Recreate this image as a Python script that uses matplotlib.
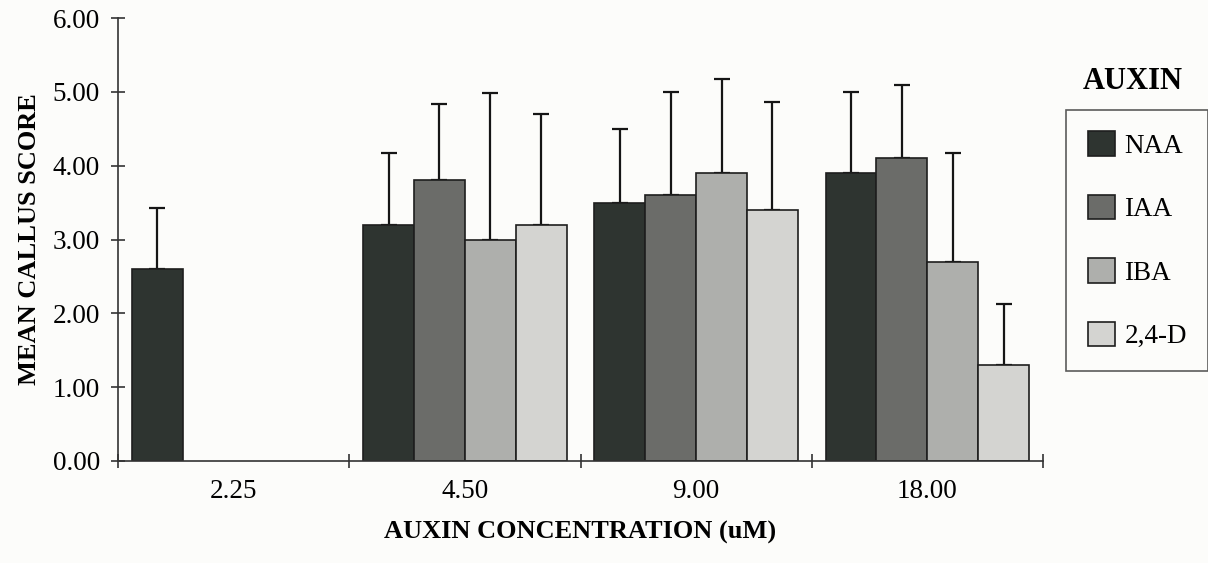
import matplotlib.pyplot as plt
import numpy as np

# data
concentrations = ['2.25', '4.50', '9.00', '18.00']
auxins = ['NAA', 'IAA', 'IBA', '2,4-D']
mean_score = {
    'NAA':   [2.6, 3.2, 3.5, 3.9],
    'IAA':   [None, 3.8, 3.6, 4.1],
    'IBA':   [None, 3.0, 3.9, 2.7],
    '2,4-D': [None, 3.2, 3.4, 1.3],
}
score_err = {
    'NAA':   [0.83, 0.97, 1.0, 1.1],
    'IAA':   [None, 1.03, 1.4, 0.99],
    'IBA':   [None, 1.98, 1.28, 1.47],
    '2,4-D': [None, 1.5, 1.46, 0.83],
}
colors = {'NAA': '#2e3430', 'IAA': '#6b6c69', 'IBA': '#aeafac', '2,4-D': '#d4d4d1'}

plt.rcParams['font.family'] = ['Liberation Serif', 'DejaVu Serif']

fig = plt.figure(figsize=(12.08, 5.63), dpi=100)
fig.patch.set_facecolor('#fcfcfa')
ax = fig.add_axes([0.0977, 0.1812, 0.7657, 0.7868])
ax.set_facecolor('#fcfcfa')

bar_w = 0.22
centers = np.arange(len(concentrations)) + 0.5
for i, name in enumerate(auxins):
    xs, ys, es = [], [], []
    for j, v in enumerate(mean_score[name]):
        if v is None:
            continue
        xs.append(centers[j] + (i - 1.5) * bar_w)
        ys.append(v)
        es.append(score_err[name][j])
    ax.bar(xs, ys, width=bar_w, color=colors[name], edgecolor='#1e1e1e',
           linewidth=1.2, label=name, zorder=2)
    ax.errorbar(xs, ys, yerr=[np.zeros(len(es)), es], fmt='none',
                ecolor='#151515', elinewidth=1.6, capsize=6, capthick=1.6, zorder=1)

ax.set_xlim(0, 4)
ax.set_ylim(0, 6)
ax.set_yticks(np.arange(0, 7, 1))
ax.set_yticklabels([f'{v:.2f}' for v in np.arange(0, 7, 1)], fontsize=19.5)
ax.set_xticks(np.arange(0, 5, 1))
ax.set_xticklabels([''] * 5)
ax.set_xticks(centers, minor=True)
ax.set_xticklabels(concentrations, minor=True, fontsize=19.5)
ax.tick_params(axis='x', which='minor', length=0, pad=13)
ax.tick_params(axis='both', which='major', direction='inout', length=10,
               width=1.2, color='#333333')
ax.tick_params(axis='y', pad=8)
for s in ['top', 'right']:
    ax.spines[s].set_visible(False)
for s in ['left', 'bottom']:
    ax.spines[s].set_linewidth(1.2)
    ax.spines[s].set_color('#333333')

ax.set_ylabel('MEAN CALLUS SCORE', fontsize=19, fontweight='bold', labelpad=8)
ax.set_xlabel('AUXIN CONCENTRATION (uM)', fontsize=19, fontweight='bold', labelpad=12)

fig.text(0.938, 0.855, 'AUXIN', fontsize=22, fontweight='bold', ha='center', va='center')
leg = ax.legend(loc='upper left', bbox_to_anchor=(0.8825, 0.805), bbox_transform=fig.transFigure,
                fontsize=19.5, frameon=True, fancybox=False, edgecolor='#333333',
                handlelength=1.0, handleheight=1.0, labelspacing=1.33,
                handletextpad=0.35, borderpad=0.8, borderaxespad=0)
leg.get_frame().set_linewidth(1.2)
leg.get_frame().set_facecolor('#fcfcfa')

fig.savefig('out.png', dpi=100, facecolor=fig.get_facecolor())
